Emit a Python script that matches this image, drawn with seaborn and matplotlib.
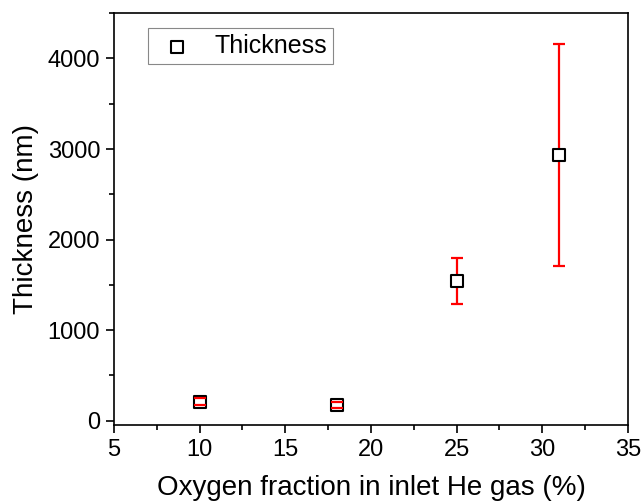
import matplotlib
matplotlib.use("Agg")
import matplotlib.pyplot as plt
import seaborn as sns
import pandas as pd
from matplotlib.ticker import MultipleLocator

# ---------- Data ----------
oxygen_pct = [10, 18, 25, 31]
thickness_nm = [209, 176, 1543, 2931]
thickness_err = [40, 32, 255, 1225]

df = pd.DataFrame({"oxygen": oxygen_pct, "thickness": thickness_nm, "err": thickness_err})

# ---------- Style ----------
sns.set_style("ticks")
plt.rcParams["font.family"] = ["Liberation Sans", "DejaVu Sans"]
plt.rcParams["text.color"] = "black"
plt.rcParams["axes.labelcolor"] = "black"

fig = plt.figure(figsize=(6.44, 5.04), dpi=100)
ax = fig.add_axes([0.177, 0.157, 0.798, 0.817])

# error bars (caps drawn above the markers, bar line below)
eb = ax.errorbar(df["oxygen"], df["thickness"], yerr=df["err"], fmt="none",
                 ecolor="red", elinewidth=1.6, capsize=4, capthick=1.6, zorder=2)
for cap in eb[1]:
    cap.set_zorder(4)

sns.scatterplot(data=df, x="oxygen", y="thickness", ax=ax, marker="s", s=70,
                facecolor="white", edgecolor="black", linewidth=1.5,
                label="Thickness", zorder=3)

ax.set_xlim(5, 35)
ax.set_ylim(-45, 4500)
ax.xaxis.set_major_locator(MultipleLocator(5))
ax.xaxis.set_minor_locator(MultipleLocator(2.5))
ax.yaxis.set_major_locator(MultipleLocator(1000))
ax.yaxis.set_minor_locator(MultipleLocator(500))

ax.tick_params(which="major", direction="out", length=6, width=1.2, labelsize=17,
               colors="black", pad=4)
ax.tick_params(which="minor", direction="out", length=3.5, width=1.2, colors="black")
for sp in ax.spines.values():
    sp.set_linewidth(1.2)
    sp.set_color("black")

ax.set_xlabel("Oxygen fraction in inlet He gas (%)", fontsize=20, labelpad=10)
ax.set_ylabel("Thickness (nm)", fontsize=20, labelpad=6)

leg = ax.legend(loc="upper left", bbox_to_anchor=(0.066, 0.964), borderaxespad=0,
                fontsize=18, fancybox=False, framealpha=1, edgecolor="#888888",
                handletextpad=0.6, borderpad=0.25, handlelength=1.8)
leg.get_frame().set_linewidth(0.8)
for t in leg.get_texts():
    t.set_color("black")

fig.savefig("out.png", dpi=100)
plt.close(fig)
